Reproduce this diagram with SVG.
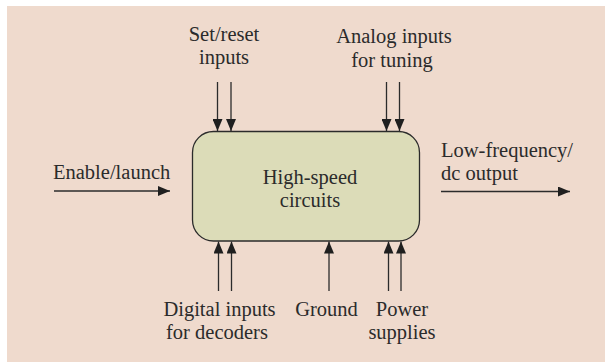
<svg xmlns="http://www.w3.org/2000/svg" width="605" height="363" viewBox="0 0 605 363">
<style>
.t{font-family:"Liberation Serif","Times New Roman",serif;font-size:20.5px;fill:#2b2b2b}
.m{text-anchor:middle}
.c{stroke:#2b2b2b;stroke-width:1.3;fill:none;marker-end:url(#ah)}
</style>
<defs>
<marker id="ah" markerUnits="userSpaceOnUse" markerWidth="12" markerHeight="10" refX="12" refY="5" orient="auto">
<path d="M0,0 L12,5 L0,10 Z" fill="#1f1f1f"/>
</marker>
</defs>
<rect x="7" y="6" width="598" height="356" fill="#efdacd"/>
<g id="circuits">
<rect x="192.5" y="131.5" width="227" height="109.5" rx="21" ry="21" fill="#dcdcb8" stroke="#2b2b2b" stroke-width="1.3"/>
<text class="t m" x="310" y="184">High-speed</text>
<text class="t m" x="310" y="207">circuits</text>
</g>
<g id="set-reset">
<text class="t m" x="224" y="41">Set/reset</text>
<text class="t m" x="224" y="64">inputs</text>
</g>
<g id="analog">
<text class="t m" x="394" y="43">Analog inputs</text>
<text class="t m" x="392" y="66.5">for tuning</text>
</g>
<g id="enable">
<text class="t" x="53" y="179">Enable/launch</text>
</g>
<g id="output">
<text class="t" x="441" y="157">Low-frequency/</text>
<text class="t" x="441" y="179.5">dc output</text>
</g>
<g id="digital">
<text class="t m" x="219.5" y="316">Digital inputs</text>
<text class="t m" x="217" y="339">for decoders</text>
</g>
<g id="ground">
<text class="t m" x="326.5" y="316">Ground</text>
</g>
<g id="power">
<text class="t m" x="402" y="316">Power</text>
<text class="t m" x="402" y="339">supplies</text>
</g>
<g id="connectors">
<line class="c" x1="217.5" y1="82" x2="217.5" y2="131"/>
<line class="c" x1="231" y1="82" x2="231" y2="131"/>
<line class="c" x1="386.5" y1="82" x2="386.5" y2="131"/>
<line class="c" x1="399.5" y1="82" x2="399.5" y2="131"/>
<line class="c" x1="54" y1="191" x2="170" y2="191"/>
<line class="c" x1="441" y1="191.5" x2="570" y2="191.5"/>
<line class="c" x1="218.5" y1="291" x2="218.5" y2="241.5"/>
<line class="c" x1="231.5" y1="291" x2="231.5" y2="241.5"/>
<line class="c" x1="329" y1="291" x2="329" y2="241.5"/>
<line class="c" x1="388.5" y1="291" x2="388.5" y2="241.5"/>
<line class="c" x1="401" y1="291" x2="401" y2="241.5"/>
</g>
</svg>
